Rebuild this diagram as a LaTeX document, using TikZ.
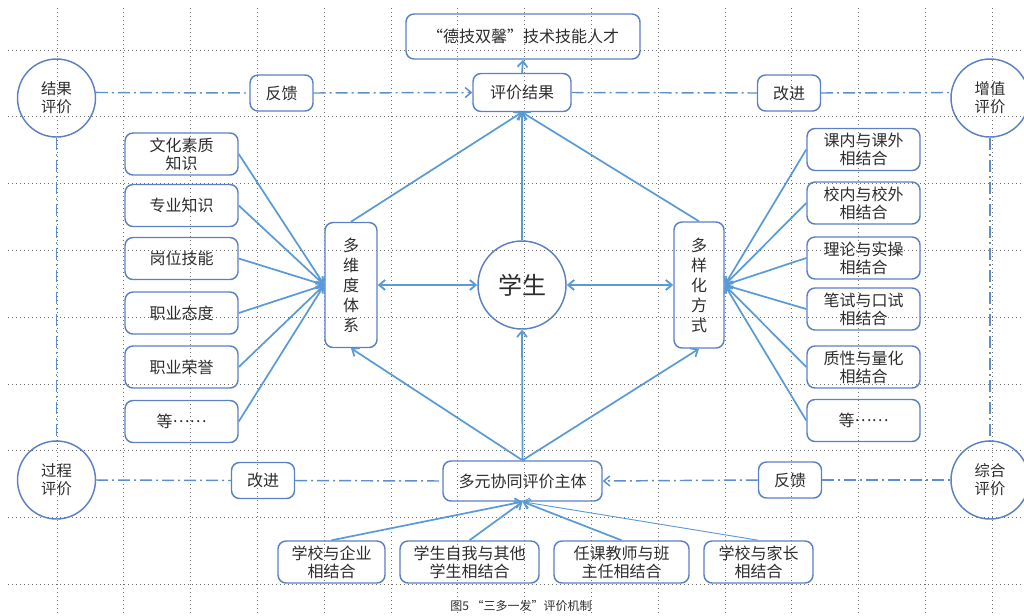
\documentclass[tikz,border=0pt]{standalone}
\usepackage{fontspec}
\setmainfont{Noto Sans CJK SC}
\usetikzlibrary{arrows.meta}
\definecolor{bd}{RGB}{91,128,196}
\definecolor{ar}{RGB}{91,155,213}
\definecolor{dl}{RGB}{91,143,207}
\definecolor{tx}{RGB}{45,45,45}
\definecolor{gd}{RGB}{110,110,110}
\begin{document}
\begin{tikzpicture}[x=0.75pt,y=-0.75pt,
  >={Straight Barb[length=4.5pt,width=7.5pt]},
  box/.style={draw=bd,line width=1.1pt,rounded corners=6pt,text=tx,font=\fontsize{12}{13.5}\selectfont,align=center,inner sep=0pt},
  smallbox/.style={box,minimum width=47.25pt,minimum height=27pt},
  colbox/.style={box,minimum width=84.75pt,minimum height=31.5pt},
  botbox/.style={box,minimum height=31.5pt},
  circ/.style={draw=bd,line width=1.1pt,circle,minimum size=58.5pt,text=tx,font=\fontsize{11.5}{13.5}\selectfont,align=center,inner sep=0pt},
  arr/.style={draw=ar,line width=1.3pt,->},
  dd/.style={draw=dl,line width=1.1pt,dash pattern=on 9pt off 3pt on 1.5pt off 3pt},
  gridline/.style={draw=gd,line width=0.6pt,dash pattern=on 0.6pt off 2.4pt}]
\useasboundingbox (0,0) rectangle (1024,615);
\foreach \i in {0,...,14} \draw[gridline] ({57+66.8*\i},8) -- ({57+66.8*\i},615);
\foreach \j in {0,...,8} \draw[gridline] (8,{50+66.8*\j}) -- (1024,{50+66.8*\j});

\node[box,minimum width=175.5pt,minimum height=33.75pt] (top) at (523,36.5) {“德技双馨”技术技能人才};
\node[box,minimum width=73.5pt,minimum height=28.5pt] (pj) at (522,92.5) {评价结果};
\node[smallbox] (fk1) at (281.5,93) {反馈};
\node[smallbox] (gj1) at (789,93) {改进};
\node[circ] (jg) at (56.5,98) {结果\\评价};
\node[circ] (zz) at (990,98) {增值\\评价};
\node[circ] (gc) at (56.5,480) {过程\\评价};
\node[circ] (zh) at (990,480) {综合\\评价};
\node[smallbox] (gj2) at (263,480.5) {改进};
\node[box,minimum width=119.25pt,minimum height=30pt] (dy) at (522.5,481) {多元协同评价主体};
\node[smallbox] (fk2) at (790,480) {反馈};

\node[colbox] (L1) at (181.5,154) {文化素质\\知识};
\node[colbox] (L2) at (181.5,205.5) {专业知识};
\node[colbox] (L3) at (181.5,258.5) {岗位技能};
\node[colbox] (L4) at (181.5,313) {职业态度};
\node[colbox] (L5) at (181.5,367) {职业荣誉};
\node[colbox] (L6) at (181.5,421.5) {等\raisebox{0.32em}{……}};

\node[colbox] (R1) at (863.5,149.5) {课内与课外\\相结合};
\node[colbox] (R2) at (863.5,203) {校内与校外\\相结合};
\node[colbox] (R3) at (863.5,258) {理论与实操\\相结合};
\node[colbox] (R4) at (863.5,309) {笔试与口试\\相结合};
\node[colbox] (R5) at (863.5,367) {质性与量化\\相结合};
\node[colbox] (R6) at (863.5,420.5) {等\raisebox{0.32em}{……}};

\node[box,minimum width=39pt,minimum height=93.75pt,font=\fontsize{12}{15}\selectfont] (dw) at (351,285) {多\\维\\度\\体\\系};
\node[box,minimum width=37.5pt,minimum height=94.5pt,font=\fontsize{12}{15}\selectfont] (dx) at (699,285) {多\\样\\化\\方\\式};
\node[circ,minimum size=66pt,font=\fontsize{18}{20}\selectfont] (xs) at (522,285) {学生};

\node[botbox,minimum width=80.25pt] (B1) at (331.5,562) {学校与企业\\相结合};
\node[botbox,minimum width=104.25pt] (B2) at (469.5,562) {学生自我与其他\\学生相结合};
\node[botbox,minimum width=101.25pt] (B3) at (621.5,562) {任课教师与班\\主任相结合};
\node[botbox,minimum width=81.75pt] (B4) at (758.5,562) {学校与家长\\相结合};

\node[font=\fontsize{9}{10}\selectfont,text=tx] (cap) at (521,606) {图5 “三多一发”评价机制};

\foreach \n in {L1,L2,L3,L4,L5,L6} \draw[arr] (\n.east) -- (dw.west);
\foreach \n in {R1,R2,R3,R4,R5,R6} \draw[arr] (\n.west) -- (dx.east);
\draw[draw=ar,line width=1.4pt,<->] (dw.east) -- (xs.west);
\draw[draw=ar,line width=1.4pt,<->] (xs.east) -- (dx.west);
\draw[arr] (dy.north) -- (dw.south);
\draw[arr] (dy.north) -- (xs.south);
\draw[arr] (dy.north) -- (dx.south);
\draw[arr] (dw.north) -- (pj.south);
\draw[arr] (xs.north) -- (pj.south);
\draw[arr] (dx.north) -- (pj.south);
\draw[arr] (pj.north) -- (top.south);
\foreach \n in {B1,B2,B3} \draw[arr] (\n.north) -- (dy.south);
\draw[arr,line width=0.7pt] (B4.north) -- (dy.south);

\draw[dd] (jg.8) -- (fk1.west);
\draw[dd,->] (fk1.east) -- (pj.west);
\draw[dd] (pj.east) -- (gj1.west);
\draw[dd] (gj1.east) -- (zz.172);
\draw[dd] (gc.east) -- (gj2.west);
\draw[dd] (gj2.east) -- (dy.west);
\draw[dd,->] (fk2.west) -- (dy.east);
\draw[dd] (fk2.east) -- (zh.west);
\draw[dd] (jg.south) -- (gc.north);
\draw[dd] (zz.south) -- (zh.north);
\end{tikzpicture}
\end{document}
